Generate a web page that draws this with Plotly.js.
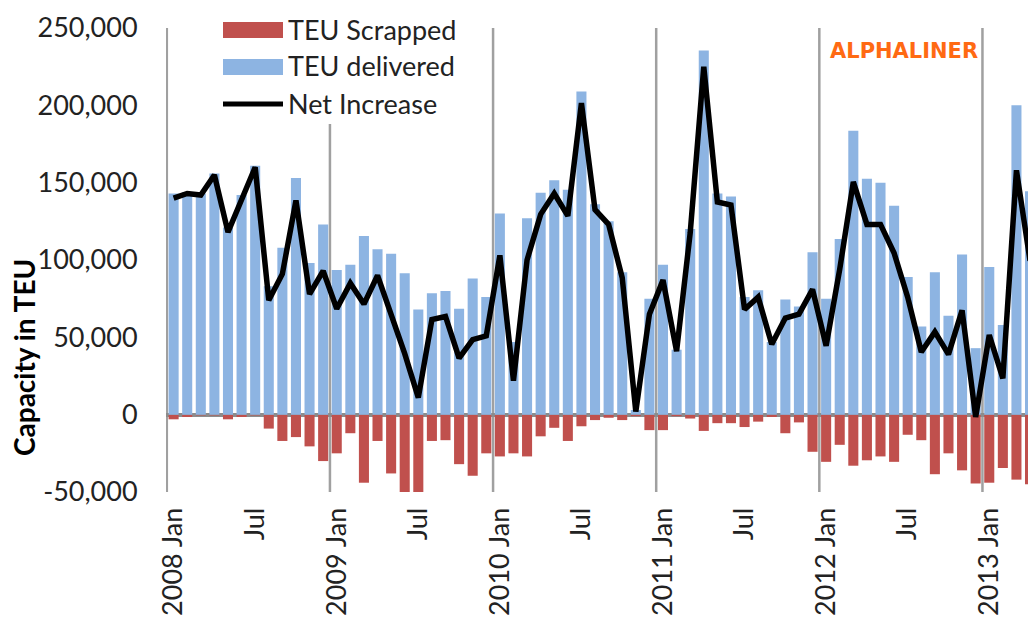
<!DOCTYPE html>
<html>
<head>
<meta charset="utf-8">
<script src="https://cdn.plot.ly/plotly-3.0.1.min.js"></script>
<style>html,body{margin:0;padding:0;background:#fff;}#chart{width:1028px;height:621px;}</style>
</head>
<body>
<div id="chart"></div>
<script>
// ---- Data (TEU per month) ----
const months = [
"2008-01","2008-02","2008-03","2008-04","2008-05","2008-06","2008-07","2008-08","2008-09","2008-10","2008-11","2008-12",
"2009-01","2009-02","2009-03","2009-04","2009-05","2009-06","2009-07","2009-08","2009-09","2009-10","2009-11","2009-12",
"2010-01","2010-02","2010-03","2010-04","2010-05","2010-06","2010-07","2010-08","2010-09","2010-10","2010-11","2010-12",
"2011-01","2011-02","2011-03","2011-04","2011-05","2011-06","2011-07","2011-08","2011-09","2011-10","2011-11","2011-12",
"2012-01","2012-02","2012-03","2012-04","2012-05","2012-06","2012-07","2012-08","2012-09","2012-10","2012-11","2012-12",
"2013-01","2013-02","2013-03","2013-04"];

const teuDelivered = [
143000,144000,143000,156000,121000,142000,161000,83000,108000,153000,98000,123000,
93500,97000,115500,107000,104000,91500,68000,78500,80000,68500,88000,76000,
130000,47000,127000,143500,151500,145500,209000,136000,125000,92000,3000,75000,
97000,42000,120000,235500,143000,141000,76000,80500,47000,74500,70000,105000,
75000,113500,183500,152500,150000,135000,89000,57000,92000,64000,103500,43000,
95500,58000,200000,144500];

const teuScrapped = [
-3000,-1500,-500,-500,-3000,-1500,-500,-9000,-17000,-14500,-20500,-30000,
-25000,-12000,-44000,-17000,-38000,-52000,-57000,-17000,-16500,-32000,-39500,-25000,
-27000,-25000,-27000,-14000,-8500,-17000,-7500,-3500,-2000,-3500,-1000,-10000,
-10000,-1000,-2500,-10500,-5500,-5500,-8000,-4500,-1500,-12000,-5000,-24000,
-30500,-19500,-33000,-29500,-27000,-30500,-13000,-16500,-38500,-25000,-36000,-44500,
-44000,-34500,-42000,-45000];

const netIncrease = [
140000,143000,142000,155000,118000,140000,160000,74000,91000,138500,78000,93000,
68500,85000,71500,90000,66000,39500,11000,61500,63500,36500,48500,51000,
103000,22000,100000,129500,143000,128500,201500,132500,123000,88500,2000,65000,
87000,41000,117500,225000,137500,135500,68000,76000,45500,62500,65000,81000,
44500,94000,150500,123000,123000,104500,76000,40500,53500,39000,67500,-1500,
51500,23500,158000,99500];

const tickMonths = ["2008-01","2008-07","2009-01","2009-07","2010-01","2010-07","2011-01","2011-07","2012-01","2012-07","2013-01"];
const tickLabels = ["2008 Jan","Jul","2009 Jan","Jul","2010 Jan","Jul","2011 Jan","Jul","2012 Jan","Jul","2013 Jan"];
const yTickValues = [-50000,0,50000,100000,150000,200000,250000];

// ---- Layout helpers ----
const W = 1028, H = 621;
const M = {l:166, r:0, t:28, b:129};
const PW = W - M.l - M.r, PH = H - M.t - M.b;
const px2x = p => (p - M.l) / PW;
const px2y = p => (H - M.b - p) / PH;

const xIdx = months.map((m, i) => i);
const tickVals = tickMonths.map(m => months.indexOf(m));
const yTickText = yTickValues.map(v => v.toLocaleString('en-US'));

const FONT = 'Lato, "Open Sans", sans-serif';
const TXT = '#222222';

const traces = [
  {type:'bar', name:'TEU Scrapped', x:xIdx, y:teuScrapped, marker:{color:'#C0504D'}, showlegend:false, hoverinfo:'skip'},
  {type:'bar', name:'TEU delivered', x:xIdx, y:teuDelivered, marker:{color:'#8DB4E2'}, showlegend:false, hoverinfo:'skip'},
  {type:'scatter', mode:'lines', name:'Net Increase', x:xIdx, y:netIncrease,
   line:{color:'#000000', width:5.5}, showlegend:false, hoverinfo:'skip'}
];

const shapes = [];
// vertical year boundary lines (between Dec and Jan)
months.forEach((m, i) => {
  if (m.endsWith('-01')) {
    shapes.push({type:'line', xref:'x', yref:'paper', x0:i-0.5, x1:i-0.5, y0:0, y1:1,
      line:{color:'#A0A0A0', width:2.5}, layer:'below'});
  }
});
// legend background (covers grid line)
shapes.push({type:'rect', xref:'paper', yref:'paper', x0:px2x(214), x1:px2x(470), y0:px2y(124), y1:px2y(8),
  fillcolor:'#ffffff', line:{width:0}, layer:'below'});
// legend symbols
shapes.push({type:'rect', xref:'paper', yref:'paper', x0:px2x(223), x1:px2x(283), y0:px2y(38), y1:px2y(22),
  fillcolor:'#C0504D', line:{width:0}, layer:'above'});
shapes.push({type:'rect', xref:'paper', yref:'paper', x0:px2x(223), x1:px2x(283), y0:px2y(75), y1:px2y(59),
  fillcolor:'#8DB4E2', line:{width:0}, layer:'above'});
shapes.push({type:'line', xref:'paper', yref:'paper', x0:px2x(223), x1:px2x(283), y0:px2y(104), y1:px2y(104),
  line:{color:'#000000', width:5}, layer:'above'});

const legendNames = ['TEU Scrapped','TEU delivered','Net Increase'];
const legendY = [29, 66, 103];
const annotations = legendNames.map((t, k) => ({
  text:t, xref:'paper', yref:'paper', x:px2x(286), y:px2y(legendY[k]), xanchor:'left', yanchor:'middle',
  showarrow:false, font:{family:FONT, size:27, color:TXT}
}));
annotations.push({text:'<b>ALPHALINER</b>', xref:'paper', yref:'paper', x:px2x(828), y:px2y(51),
  xanchor:'left', yanchor:'middle', showarrow:false, font:{family:'"DejaVu Sans", sans-serif', size:21, color:'#FF6A13'}});
annotations.push({text:'<b>Capacity in TEU</b>', xref:'paper', yref:'paper', x:px2x(24), y:px2y(358),
  xanchor:'center', yanchor:'middle', textangle:-90, showarrow:false, font:{family:FONT, size:28, color:'#000'}});

const layout = {
  width:W, height:H,
  margin:{l:M.l, r:M.r, t:M.t, b:M.b, pad:0},
  paper_bgcolor:'#ffffff', plot_bgcolor:'#ffffff',
  barmode:'relative', bargap:0.26,
  showlegend:false,
  xaxis:{range:[-0.56, 62.85], tickvals:tickVals, ticktext:tickLabels, tickangle:-90,
    ticks:'outside', ticklen:4, tickcolor:'rgba(0,0,0,0)',
    showgrid:false, zeroline:false, showline:false, automargin:false, fixedrange:true,
    tickfont:{family:FONT, size:27, color:TXT}},
  yaxis:{range:[-50000, 250000], tickvals:yTickValues, ticktext:yTickText,
    ticks:'outside', ticklen:22, tickcolor:'rgba(0,0,0,0)',
    showgrid:false, zeroline:true, zerolinecolor:'#8C8C8C', zerolinewidth:4,
    showline:false, automargin:false, fixedrange:true,
    tickfont:{family:FONT, size:27, color:TXT}},
  shapes:shapes,
  annotations:annotations
};

Plotly.newPlot('chart', traces, layout, {displayModeBar:false, staticPlot:true});
</script>
</body>
</html>
